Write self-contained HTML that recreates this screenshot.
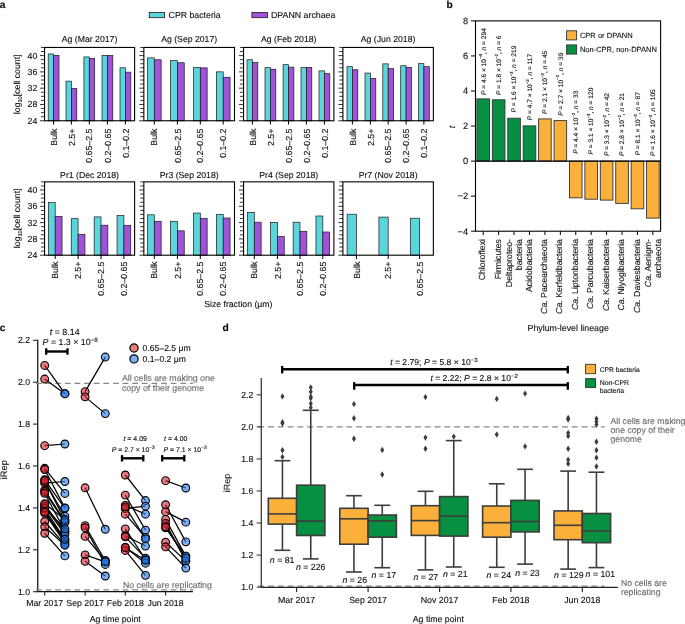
<!DOCTYPE html>
<html><head><meta charset="utf-8"><title>Figure</title>
<style>
html,body{margin:0;padding:0;background:#fff;}
body{width:685px;height:624px;overflow:hidden;}
svg{display:block;font-family:"Liberation Sans", sans-serif;text-rendering:geometricPrecision;will-change:transform;}
text{stroke:#111;stroke-width:0.12px;}
</style></head>
<body>
<svg width="685" height="624" viewBox="0 0 685 624" fill="#111">
<rect x="0" y="0" width="685" height="624" fill="#fff"/>
<text x="-0.3" y="7.8" font-size="10.2" fill="#000" stroke="#000" font-weight="bold">a</text>
<text x="446.4" y="7.8" font-size="10.2" fill="#000" stroke="#000" font-weight="bold">b</text>
<text x="-0.3" y="330.7" font-size="10.2" fill="#000" stroke="#000" font-weight="bold">c</text>
<text x="222.6" y="330.7" font-size="10.2" fill="#000" stroke="#000" font-weight="bold">d</text>
<rect x="48.2" y="53.95" width="5.4" height="66.81" fill="#5ad5dc" stroke="#1a1a1a" stroke-width="0.7" />
<rect x="53.6" y="55.45" width="5.4" height="65.31" fill="#a052d9" stroke="#1a1a1a" stroke-width="0.7" />
<line x1="53.6" y1="120.76" x2="53.6" y2="124.56" stroke="#000" stroke-width="1.0" />
<text x="56.8" y="128.66" font-size="8.75" text-anchor="end" transform="rotate(-90 56.8 128.66)">Bulk</text>
<rect x="66" y="81.15" width="5.4" height="39.61" fill="#5ad5dc" stroke="#1a1a1a" stroke-width="0.7" />
<rect x="71.4" y="88.45" width="5.4" height="32.31" fill="#a052d9" stroke="#1a1a1a" stroke-width="0.7" />
<line x1="71.4" y1="120.76" x2="71.4" y2="124.56" stroke="#000" stroke-width="1.0" />
<text x="74.6" y="128.66" font-size="8.75" text-anchor="end" transform="rotate(-90 74.6 128.66)">2.5+</text>
<rect x="83.9" y="56.95" width="5.4" height="63.81" fill="#5ad5dc" stroke="#1a1a1a" stroke-width="0.7" />
<rect x="89.3" y="58.35" width="5.4" height="62.41" fill="#a052d9" stroke="#1a1a1a" stroke-width="0.7" />
<line x1="89.3" y1="120.76" x2="89.3" y2="124.56" stroke="#000" stroke-width="1.0" />
<text x="92.5" y="128.66" font-size="8.75" text-anchor="end" transform="rotate(-90 92.5 128.66)">0.65–2.5</text>
<rect x="102" y="55.45" width="5.4" height="65.31" fill="#5ad5dc" stroke="#1a1a1a" stroke-width="0.7" />
<rect x="107.4" y="55.45" width="5.4" height="65.31" fill="#a052d9" stroke="#1a1a1a" stroke-width="0.7" />
<line x1="107.4" y1="120.76" x2="107.4" y2="124.56" stroke="#000" stroke-width="1.0" />
<text x="110.6" y="128.66" font-size="8.75" text-anchor="end" transform="rotate(-90 110.6 128.66)">0.2–0.65</text>
<rect x="120" y="67.75" width="5.4" height="53.01" fill="#5ad5dc" stroke="#1a1a1a" stroke-width="0.7" />
<rect x="125.4" y="72.15" width="5.4" height="48.61" fill="#a052d9" stroke="#1a1a1a" stroke-width="0.7" />
<line x1="125.4" y1="120.76" x2="125.4" y2="124.56" stroke="#000" stroke-width="1.0" />
<text x="128.6" y="128.66" font-size="8.75" text-anchor="end" transform="rotate(-90 128.6 128.66)">0.1–0.2</text>
<rect x="44.55" y="47.45" width="90.05" height="73.31" fill="none" stroke="#000" stroke-width="1.1" />
<line x1="39.95" y1="120.76" x2="44.55" y2="120.76" stroke="#000" stroke-width="0.8" />
<text x="37.25" y="123.76" font-size="8.75" text-anchor="end">24</text>
<line x1="40.95" y1="116.69" x2="44.55" y2="116.69" stroke="#000" stroke-width="0.8" />
<line x1="40.95" y1="112.61" x2="44.55" y2="112.61" stroke="#000" stroke-width="0.8" />
<line x1="40.95" y1="108.54" x2="44.55" y2="108.54" stroke="#000" stroke-width="0.8" />
<line x1="39.95" y1="104.47" x2="44.55" y2="104.47" stroke="#000" stroke-width="0.8" />
<text x="37.25" y="107.47" font-size="8.75" text-anchor="end">28</text>
<line x1="40.95" y1="100.4" x2="44.55" y2="100.4" stroke="#000" stroke-width="0.8" />
<line x1="40.95" y1="96.32" x2="44.55" y2="96.32" stroke="#000" stroke-width="0.8" />
<line x1="40.95" y1="92.25" x2="44.55" y2="92.25" stroke="#000" stroke-width="0.8" />
<line x1="39.95" y1="88.18" x2="44.55" y2="88.18" stroke="#000" stroke-width="0.8" />
<text x="37.25" y="91.18" font-size="8.75" text-anchor="end">32</text>
<line x1="40.95" y1="84.11" x2="44.55" y2="84.11" stroke="#000" stroke-width="0.8" />
<line x1="40.95" y1="80.03" x2="44.55" y2="80.03" stroke="#000" stroke-width="0.8" />
<line x1="40.95" y1="75.96" x2="44.55" y2="75.96" stroke="#000" stroke-width="0.8" />
<line x1="39.95" y1="71.89" x2="44.55" y2="71.89" stroke="#000" stroke-width="0.8" />
<text x="37.25" y="74.89" font-size="8.75" text-anchor="end">36</text>
<line x1="40.95" y1="67.81" x2="44.55" y2="67.81" stroke="#000" stroke-width="0.8" />
<line x1="40.95" y1="63.74" x2="44.55" y2="63.74" stroke="#000" stroke-width="0.8" />
<line x1="40.95" y1="59.67" x2="44.55" y2="59.67" stroke="#000" stroke-width="0.8" />
<line x1="39.95" y1="55.6" x2="44.55" y2="55.6" stroke="#000" stroke-width="0.8" />
<text x="37.25" y="58.6" font-size="8.75" text-anchor="end">40</text>
<line x1="40.95" y1="51.52" x2="44.55" y2="51.52" stroke="#000" stroke-width="0.8" />
<line x1="40.95" y1="47.45" x2="44.55" y2="47.45" stroke="#000" stroke-width="0.8" />
<text x="89.57" y="41.8" font-size="8.7" text-anchor="middle">Ag (Mar 2017)</text>
<rect x="147.45" y="57.85" width="6.85" height="62.91" fill="#5ad5dc" stroke="#1a1a1a" stroke-width="0.7" />
<rect x="154.3" y="59.75" width="6.85" height="61.01" fill="#a052d9" stroke="#1a1a1a" stroke-width="0.7" />
<line x1="154.3" y1="120.76" x2="154.3" y2="124.56" stroke="#000" stroke-width="1.0" />
<text x="157.5" y="128.66" font-size="8.75" text-anchor="end" transform="rotate(-90 157.5 128.66)">Bulk</text>
<rect x="170.55" y="60.65" width="6.85" height="60.11" fill="#5ad5dc" stroke="#1a1a1a" stroke-width="0.7" />
<rect x="177.4" y="62.75" width="6.85" height="58.01" fill="#a052d9" stroke="#1a1a1a" stroke-width="0.7" />
<line x1="177.4" y1="120.76" x2="177.4" y2="124.56" stroke="#000" stroke-width="1.0" />
<text x="180.6" y="128.66" font-size="8.75" text-anchor="end" transform="rotate(-90 180.6 128.66)">0.65–2.5</text>
<rect x="193.45" y="67.65" width="6.85" height="53.11" fill="#5ad5dc" stroke="#1a1a1a" stroke-width="0.7" />
<rect x="200.3" y="67.85" width="6.85" height="52.91" fill="#a052d9" stroke="#1a1a1a" stroke-width="0.7" />
<line x1="200.3" y1="120.76" x2="200.3" y2="124.56" stroke="#000" stroke-width="1.0" />
<text x="203.5" y="128.66" font-size="8.75" text-anchor="end" transform="rotate(-90 203.5 128.66)">0.2–0.65</text>
<rect x="216.35" y="71.85" width="6.85" height="48.91" fill="#5ad5dc" stroke="#1a1a1a" stroke-width="0.7" />
<rect x="223.2" y="77.25" width="6.85" height="43.51" fill="#a052d9" stroke="#1a1a1a" stroke-width="0.7" />
<line x1="223.2" y1="120.76" x2="223.2" y2="124.56" stroke="#000" stroke-width="1.0" />
<text x="226.4" y="128.66" font-size="8.75" text-anchor="end" transform="rotate(-90 226.4 128.66)">0.1–0.2</text>
<rect x="143.85" y="47.45" width="90.65" height="73.31" fill="none" stroke="#000" stroke-width="1.1" />
<line x1="139.25" y1="120.76" x2="143.85" y2="120.76" stroke="#000" stroke-width="0.8" />
<line x1="140.25" y1="116.69" x2="143.85" y2="116.69" stroke="#000" stroke-width="0.8" />
<line x1="140.25" y1="112.61" x2="143.85" y2="112.61" stroke="#000" stroke-width="0.8" />
<line x1="140.25" y1="108.54" x2="143.85" y2="108.54" stroke="#000" stroke-width="0.8" />
<line x1="139.25" y1="104.47" x2="143.85" y2="104.47" stroke="#000" stroke-width="0.8" />
<line x1="140.25" y1="100.4" x2="143.85" y2="100.4" stroke="#000" stroke-width="0.8" />
<line x1="140.25" y1="96.32" x2="143.85" y2="96.32" stroke="#000" stroke-width="0.8" />
<line x1="140.25" y1="92.25" x2="143.85" y2="92.25" stroke="#000" stroke-width="0.8" />
<line x1="139.25" y1="88.18" x2="143.85" y2="88.18" stroke="#000" stroke-width="0.8" />
<line x1="140.25" y1="84.11" x2="143.85" y2="84.11" stroke="#000" stroke-width="0.8" />
<line x1="140.25" y1="80.03" x2="143.85" y2="80.03" stroke="#000" stroke-width="0.8" />
<line x1="140.25" y1="75.96" x2="143.85" y2="75.96" stroke="#000" stroke-width="0.8" />
<line x1="139.25" y1="71.89" x2="143.85" y2="71.89" stroke="#000" stroke-width="0.8" />
<line x1="140.25" y1="67.81" x2="143.85" y2="67.81" stroke="#000" stroke-width="0.8" />
<line x1="140.25" y1="63.74" x2="143.85" y2="63.74" stroke="#000" stroke-width="0.8" />
<line x1="140.25" y1="59.67" x2="143.85" y2="59.67" stroke="#000" stroke-width="0.8" />
<line x1="139.25" y1="55.6" x2="143.85" y2="55.6" stroke="#000" stroke-width="0.8" />
<line x1="140.25" y1="51.52" x2="143.85" y2="51.52" stroke="#000" stroke-width="0.8" />
<line x1="140.25" y1="47.45" x2="143.85" y2="47.45" stroke="#000" stroke-width="0.8" />
<text x="189.18" y="41.8" font-size="8.7" text-anchor="middle">Ag (Sep 2017)</text>
<rect x="247" y="59.75" width="5.4" height="61.01" fill="#5ad5dc" stroke="#1a1a1a" stroke-width="0.7" />
<rect x="252.4" y="62.55" width="5.4" height="58.21" fill="#a052d9" stroke="#1a1a1a" stroke-width="0.7" />
<line x1="252.4" y1="120.76" x2="252.4" y2="124.56" stroke="#000" stroke-width="1.0" />
<text x="255.6" y="128.66" font-size="8.75" text-anchor="end" transform="rotate(-90 255.6 128.66)">Bulk</text>
<rect x="265" y="67.65" width="5.4" height="53.11" fill="#5ad5dc" stroke="#1a1a1a" stroke-width="0.7" />
<rect x="270.4" y="69.25" width="5.4" height="51.51" fill="#a052d9" stroke="#1a1a1a" stroke-width="0.7" />
<line x1="270.4" y1="120.76" x2="270.4" y2="124.56" stroke="#000" stroke-width="1.0" />
<text x="273.6" y="128.66" font-size="8.75" text-anchor="end" transform="rotate(-90 273.6 128.66)">2.5+</text>
<rect x="283.1" y="64.65" width="5.4" height="56.11" fill="#5ad5dc" stroke="#1a1a1a" stroke-width="0.7" />
<rect x="288.5" y="67.15" width="5.4" height="53.61" fill="#a052d9" stroke="#1a1a1a" stroke-width="0.7" />
<line x1="288.5" y1="120.76" x2="288.5" y2="124.56" stroke="#000" stroke-width="1.0" />
<text x="291.7" y="128.66" font-size="8.75" text-anchor="end" transform="rotate(-90 291.7 128.66)">0.65–2.5</text>
<rect x="301" y="67.65" width="5.4" height="53.11" fill="#5ad5dc" stroke="#1a1a1a" stroke-width="0.7" />
<rect x="306.4" y="67.35" width="5.4" height="53.41" fill="#a052d9" stroke="#1a1a1a" stroke-width="0.7" />
<line x1="306.4" y1="120.76" x2="306.4" y2="124.56" stroke="#000" stroke-width="1.0" />
<text x="309.6" y="128.66" font-size="8.75" text-anchor="end" transform="rotate(-90 309.6 128.66)">0.2–0.65</text>
<rect x="319" y="70.85" width="5.4" height="49.91" fill="#5ad5dc" stroke="#1a1a1a" stroke-width="0.7" />
<rect x="324.4" y="73.65" width="5.4" height="47.11" fill="#a052d9" stroke="#1a1a1a" stroke-width="0.7" />
<line x1="324.4" y1="120.76" x2="324.4" y2="124.56" stroke="#000" stroke-width="1.0" />
<text x="327.6" y="128.66" font-size="8.75" text-anchor="end" transform="rotate(-90 327.6 128.66)">0.1–0.2</text>
<rect x="243.55" y="47.45" width="90.35" height="73.31" fill="none" stroke="#000" stroke-width="1.1" />
<line x1="238.95" y1="120.76" x2="243.55" y2="120.76" stroke="#000" stroke-width="0.8" />
<line x1="239.95" y1="116.69" x2="243.55" y2="116.69" stroke="#000" stroke-width="0.8" />
<line x1="239.95" y1="112.61" x2="243.55" y2="112.61" stroke="#000" stroke-width="0.8" />
<line x1="239.95" y1="108.54" x2="243.55" y2="108.54" stroke="#000" stroke-width="0.8" />
<line x1="238.95" y1="104.47" x2="243.55" y2="104.47" stroke="#000" stroke-width="0.8" />
<line x1="239.95" y1="100.4" x2="243.55" y2="100.4" stroke="#000" stroke-width="0.8" />
<line x1="239.95" y1="96.32" x2="243.55" y2="96.32" stroke="#000" stroke-width="0.8" />
<line x1="239.95" y1="92.25" x2="243.55" y2="92.25" stroke="#000" stroke-width="0.8" />
<line x1="238.95" y1="88.18" x2="243.55" y2="88.18" stroke="#000" stroke-width="0.8" />
<line x1="239.95" y1="84.11" x2="243.55" y2="84.11" stroke="#000" stroke-width="0.8" />
<line x1="239.95" y1="80.03" x2="243.55" y2="80.03" stroke="#000" stroke-width="0.8" />
<line x1="239.95" y1="75.96" x2="243.55" y2="75.96" stroke="#000" stroke-width="0.8" />
<line x1="238.95" y1="71.89" x2="243.55" y2="71.89" stroke="#000" stroke-width="0.8" />
<line x1="239.95" y1="67.81" x2="243.55" y2="67.81" stroke="#000" stroke-width="0.8" />
<line x1="239.95" y1="63.74" x2="243.55" y2="63.74" stroke="#000" stroke-width="0.8" />
<line x1="239.95" y1="59.67" x2="243.55" y2="59.67" stroke="#000" stroke-width="0.8" />
<line x1="238.95" y1="55.6" x2="243.55" y2="55.6" stroke="#000" stroke-width="0.8" />
<line x1="239.95" y1="51.52" x2="243.55" y2="51.52" stroke="#000" stroke-width="0.8" />
<line x1="239.95" y1="47.45" x2="243.55" y2="47.45" stroke="#000" stroke-width="0.8" />
<text x="288.73" y="41.8" font-size="8.7" text-anchor="middle">Ag (Feb 2018)</text>
<rect x="347" y="66.65" width="5.4" height="54.11" fill="#5ad5dc" stroke="#1a1a1a" stroke-width="0.7" />
<rect x="352.4" y="69.75" width="5.4" height="51.01" fill="#a052d9" stroke="#1a1a1a" stroke-width="0.7" />
<line x1="352.4" y1="120.76" x2="352.4" y2="124.56" stroke="#000" stroke-width="1.0" />
<text x="355.6" y="128.66" font-size="8.75" text-anchor="end" transform="rotate(-90 355.6 128.66)">Bulk</text>
<rect x="365" y="73.05" width="5.4" height="47.71" fill="#5ad5dc" stroke="#1a1a1a" stroke-width="0.7" />
<rect x="370.4" y="78.55" width="5.4" height="42.21" fill="#a052d9" stroke="#1a1a1a" stroke-width="0.7" />
<line x1="370.4" y1="120.76" x2="370.4" y2="124.56" stroke="#000" stroke-width="1.0" />
<text x="373.6" y="128.66" font-size="8.75" text-anchor="end" transform="rotate(-90 373.6 128.66)">2.5+</text>
<rect x="382.8" y="63.85" width="5.4" height="56.91" fill="#5ad5dc" stroke="#1a1a1a" stroke-width="0.7" />
<rect x="388.2" y="68.55" width="5.4" height="52.21" fill="#a052d9" stroke="#1a1a1a" stroke-width="0.7" />
<line x1="388.2" y1="120.76" x2="388.2" y2="124.56" stroke="#000" stroke-width="1.0" />
<text x="391.4" y="128.66" font-size="8.75" text-anchor="end" transform="rotate(-90 391.4 128.66)">0.65–2.5</text>
<rect x="400.7" y="65.75" width="5.4" height="55.01" fill="#5ad5dc" stroke="#1a1a1a" stroke-width="0.7" />
<rect x="406.1" y="67.45" width="5.4" height="53.31" fill="#a052d9" stroke="#1a1a1a" stroke-width="0.7" />
<line x1="406.1" y1="120.76" x2="406.1" y2="124.56" stroke="#000" stroke-width="1.0" />
<text x="409.3" y="128.66" font-size="8.75" text-anchor="end" transform="rotate(-90 409.3 128.66)">0.2–0.65</text>
<rect x="418.5" y="63.65" width="5.4" height="57.11" fill="#5ad5dc" stroke="#1a1a1a" stroke-width="0.7" />
<rect x="423.9" y="66.65" width="5.4" height="54.11" fill="#a052d9" stroke="#1a1a1a" stroke-width="0.7" />
<line x1="423.9" y1="120.76" x2="423.9" y2="124.56" stroke="#000" stroke-width="1.0" />
<text x="427.1" y="128.66" font-size="8.75" text-anchor="end" transform="rotate(-90 427.1 128.66)">0.1–0.2</text>
<rect x="342.9" y="47.45" width="90.45" height="73.31" fill="none" stroke="#000" stroke-width="1.1" />
<line x1="338.3" y1="120.76" x2="342.9" y2="120.76" stroke="#000" stroke-width="0.8" />
<line x1="339.3" y1="116.69" x2="342.9" y2="116.69" stroke="#000" stroke-width="0.8" />
<line x1="339.3" y1="112.61" x2="342.9" y2="112.61" stroke="#000" stroke-width="0.8" />
<line x1="339.3" y1="108.54" x2="342.9" y2="108.54" stroke="#000" stroke-width="0.8" />
<line x1="338.3" y1="104.47" x2="342.9" y2="104.47" stroke="#000" stroke-width="0.8" />
<line x1="339.3" y1="100.4" x2="342.9" y2="100.4" stroke="#000" stroke-width="0.8" />
<line x1="339.3" y1="96.32" x2="342.9" y2="96.32" stroke="#000" stroke-width="0.8" />
<line x1="339.3" y1="92.25" x2="342.9" y2="92.25" stroke="#000" stroke-width="0.8" />
<line x1="338.3" y1="88.18" x2="342.9" y2="88.18" stroke="#000" stroke-width="0.8" />
<line x1="339.3" y1="84.11" x2="342.9" y2="84.11" stroke="#000" stroke-width="0.8" />
<line x1="339.3" y1="80.03" x2="342.9" y2="80.03" stroke="#000" stroke-width="0.8" />
<line x1="339.3" y1="75.96" x2="342.9" y2="75.96" stroke="#000" stroke-width="0.8" />
<line x1="338.3" y1="71.89" x2="342.9" y2="71.89" stroke="#000" stroke-width="0.8" />
<line x1="339.3" y1="67.81" x2="342.9" y2="67.81" stroke="#000" stroke-width="0.8" />
<line x1="339.3" y1="63.74" x2="342.9" y2="63.74" stroke="#000" stroke-width="0.8" />
<line x1="339.3" y1="59.67" x2="342.9" y2="59.67" stroke="#000" stroke-width="0.8" />
<line x1="338.3" y1="55.6" x2="342.9" y2="55.6" stroke="#000" stroke-width="0.8" />
<line x1="339.3" y1="51.52" x2="342.9" y2="51.52" stroke="#000" stroke-width="0.8" />
<line x1="339.3" y1="47.45" x2="342.9" y2="47.45" stroke="#000" stroke-width="0.8" />
<text x="388.12" y="41.8" font-size="8.7" text-anchor="middle">Ag (Jun 2018)</text>
<text x="19.6" y="84.3" font-size="8.75" text-anchor="middle" transform="rotate(-90 19.6 84.3)">log<tspan font-size="5.6" dy="2">10</tspan><tspan dy="-2">[cell count]</tspan></text>
<rect x="48.35" y="202.6" width="6.85" height="52.6" fill="#5ad5dc" stroke="#1a1a1a" stroke-width="0.7" />
<rect x="55.2" y="216.4" width="6.85" height="38.8" fill="#a052d9" stroke="#1a1a1a" stroke-width="0.7" />
<line x1="55.2" y1="255.2" x2="55.2" y2="259" stroke="#000" stroke-width="1.0" />
<text x="58.4" y="261.7" font-size="8.75" text-anchor="end" transform="rotate(-90 58.4 261.7)">Bulk</text>
<rect x="71.25" y="218.7" width="6.85" height="36.5" fill="#5ad5dc" stroke="#1a1a1a" stroke-width="0.7" />
<rect x="78.1" y="234.3" width="6.85" height="20.9" fill="#a052d9" stroke="#1a1a1a" stroke-width="0.7" />
<line x1="78.1" y1="255.2" x2="78.1" y2="259" stroke="#000" stroke-width="1.0" />
<text x="81.3" y="261.7" font-size="8.75" text-anchor="end" transform="rotate(-90 81.3 261.7)">2.5+</text>
<rect x="94.15" y="216.9" width="6.85" height="38.3" fill="#5ad5dc" stroke="#1a1a1a" stroke-width="0.7" />
<rect x="101" y="225.2" width="6.85" height="30" fill="#a052d9" stroke="#1a1a1a" stroke-width="0.7" />
<line x1="101" y1="255.2" x2="101" y2="259" stroke="#000" stroke-width="1.0" />
<text x="104.2" y="261.7" font-size="8.75" text-anchor="end" transform="rotate(-90 104.2 261.7)">0.65–2.5</text>
<rect x="117.05" y="215.5" width="6.85" height="39.7" fill="#5ad5dc" stroke="#1a1a1a" stroke-width="0.7" />
<rect x="123.9" y="225.3" width="6.85" height="29.9" fill="#a052d9" stroke="#1a1a1a" stroke-width="0.7" />
<line x1="123.9" y1="255.2" x2="123.9" y2="259" stroke="#000" stroke-width="1.0" />
<text x="127.1" y="261.7" font-size="8.75" text-anchor="end" transform="rotate(-90 127.1 261.7)">0.2–0.65</text>
<rect x="44.55" y="181.85" width="90.05" height="73.35" fill="none" stroke="#000" stroke-width="1.1" />
<line x1="39.95" y1="255.2" x2="44.55" y2="255.2" stroke="#000" stroke-width="0.8" />
<text x="37.25" y="258.2" font-size="8.75" text-anchor="end">24</text>
<line x1="40.95" y1="251.12" x2="44.55" y2="251.12" stroke="#000" stroke-width="0.8" />
<line x1="40.95" y1="247.05" x2="44.55" y2="247.05" stroke="#000" stroke-width="0.8" />
<line x1="40.95" y1="242.97" x2="44.55" y2="242.97" stroke="#000" stroke-width="0.8" />
<line x1="39.95" y1="238.9" x2="44.55" y2="238.9" stroke="#000" stroke-width="0.8" />
<text x="37.25" y="241.9" font-size="8.75" text-anchor="end">28</text>
<line x1="40.95" y1="234.82" x2="44.55" y2="234.82" stroke="#000" stroke-width="0.8" />
<line x1="40.95" y1="230.75" x2="44.55" y2="230.75" stroke="#000" stroke-width="0.8" />
<line x1="40.95" y1="226.67" x2="44.55" y2="226.67" stroke="#000" stroke-width="0.8" />
<line x1="39.95" y1="222.6" x2="44.55" y2="222.6" stroke="#000" stroke-width="0.8" />
<text x="37.25" y="225.6" font-size="8.75" text-anchor="end">32</text>
<line x1="40.95" y1="218.52" x2="44.55" y2="218.52" stroke="#000" stroke-width="0.8" />
<line x1="40.95" y1="214.45" x2="44.55" y2="214.45" stroke="#000" stroke-width="0.8" />
<line x1="40.95" y1="210.38" x2="44.55" y2="210.38" stroke="#000" stroke-width="0.8" />
<line x1="39.95" y1="206.3" x2="44.55" y2="206.3" stroke="#000" stroke-width="0.8" />
<text x="37.25" y="209.3" font-size="8.75" text-anchor="end">36</text>
<line x1="40.95" y1="202.22" x2="44.55" y2="202.22" stroke="#000" stroke-width="0.8" />
<line x1="40.95" y1="198.15" x2="44.55" y2="198.15" stroke="#000" stroke-width="0.8" />
<line x1="40.95" y1="194.07" x2="44.55" y2="194.07" stroke="#000" stroke-width="0.8" />
<line x1="39.95" y1="190" x2="44.55" y2="190" stroke="#000" stroke-width="0.8" />
<text x="37.25" y="193" font-size="8.75" text-anchor="end">40</text>
<line x1="40.95" y1="185.93" x2="44.55" y2="185.93" stroke="#000" stroke-width="0.8" />
<line x1="40.95" y1="181.85" x2="44.55" y2="181.85" stroke="#000" stroke-width="0.8" />
<text x="89.57" y="177.9" font-size="8.7" text-anchor="middle">Pr1 (Dec 2018)</text>
<rect x="147.45" y="214.8" width="6.85" height="40.4" fill="#5ad5dc" stroke="#1a1a1a" stroke-width="0.7" />
<rect x="154.3" y="221.3" width="6.85" height="33.9" fill="#a052d9" stroke="#1a1a1a" stroke-width="0.7" />
<line x1="154.3" y1="255.2" x2="154.3" y2="259" stroke="#000" stroke-width="1.0" />
<text x="157.5" y="261.7" font-size="8.75" text-anchor="end" transform="rotate(-90 157.5 261.7)">Bulk</text>
<rect x="170.55" y="221.3" width="6.85" height="33.9" fill="#5ad5dc" stroke="#1a1a1a" stroke-width="0.7" />
<rect x="177.4" y="230.8" width="6.85" height="24.4" fill="#a052d9" stroke="#1a1a1a" stroke-width="0.7" />
<line x1="177.4" y1="255.2" x2="177.4" y2="259" stroke="#000" stroke-width="1.0" />
<text x="180.6" y="261.7" font-size="8.75" text-anchor="end" transform="rotate(-90 180.6 261.7)">2.5+</text>
<rect x="193.45" y="213.1" width="6.85" height="42.1" fill="#5ad5dc" stroke="#1a1a1a" stroke-width="0.7" />
<rect x="200.3" y="218.3" width="6.85" height="36.9" fill="#a052d9" stroke="#1a1a1a" stroke-width="0.7" />
<line x1="200.3" y1="255.2" x2="200.3" y2="259" stroke="#000" stroke-width="1.0" />
<text x="203.5" y="261.7" font-size="8.75" text-anchor="end" transform="rotate(-90 203.5 261.7)">0.65–2.5</text>
<rect x="216.35" y="214.5" width="6.85" height="40.7" fill="#5ad5dc" stroke="#1a1a1a" stroke-width="0.7" />
<rect x="223.2" y="218" width="6.85" height="37.2" fill="#a052d9" stroke="#1a1a1a" stroke-width="0.7" />
<line x1="223.2" y1="255.2" x2="223.2" y2="259" stroke="#000" stroke-width="1.0" />
<text x="226.4" y="261.7" font-size="8.75" text-anchor="end" transform="rotate(-90 226.4 261.7)">0.2–0.65</text>
<rect x="143.85" y="181.85" width="90.65" height="73.35" fill="none" stroke="#000" stroke-width="1.1" />
<line x1="139.25" y1="255.2" x2="143.85" y2="255.2" stroke="#000" stroke-width="0.8" />
<line x1="140.25" y1="251.12" x2="143.85" y2="251.12" stroke="#000" stroke-width="0.8" />
<line x1="140.25" y1="247.05" x2="143.85" y2="247.05" stroke="#000" stroke-width="0.8" />
<line x1="140.25" y1="242.97" x2="143.85" y2="242.97" stroke="#000" stroke-width="0.8" />
<line x1="139.25" y1="238.9" x2="143.85" y2="238.9" stroke="#000" stroke-width="0.8" />
<line x1="140.25" y1="234.82" x2="143.85" y2="234.82" stroke="#000" stroke-width="0.8" />
<line x1="140.25" y1="230.75" x2="143.85" y2="230.75" stroke="#000" stroke-width="0.8" />
<line x1="140.25" y1="226.67" x2="143.85" y2="226.67" stroke="#000" stroke-width="0.8" />
<line x1="139.25" y1="222.6" x2="143.85" y2="222.6" stroke="#000" stroke-width="0.8" />
<line x1="140.25" y1="218.52" x2="143.85" y2="218.52" stroke="#000" stroke-width="0.8" />
<line x1="140.25" y1="214.45" x2="143.85" y2="214.45" stroke="#000" stroke-width="0.8" />
<line x1="140.25" y1="210.38" x2="143.85" y2="210.38" stroke="#000" stroke-width="0.8" />
<line x1="139.25" y1="206.3" x2="143.85" y2="206.3" stroke="#000" stroke-width="0.8" />
<line x1="140.25" y1="202.22" x2="143.85" y2="202.22" stroke="#000" stroke-width="0.8" />
<line x1="140.25" y1="198.15" x2="143.85" y2="198.15" stroke="#000" stroke-width="0.8" />
<line x1="140.25" y1="194.07" x2="143.85" y2="194.07" stroke="#000" stroke-width="0.8" />
<line x1="139.25" y1="190" x2="143.85" y2="190" stroke="#000" stroke-width="0.8" />
<line x1="140.25" y1="185.93" x2="143.85" y2="185.93" stroke="#000" stroke-width="0.8" />
<line x1="140.25" y1="181.85" x2="143.85" y2="181.85" stroke="#000" stroke-width="0.8" />
<text x="189.18" y="177.9" font-size="8.7" text-anchor="middle">Pr3 (Sep 2018)</text>
<rect x="247.45" y="212.4" width="6.85" height="42.8" fill="#5ad5dc" stroke="#1a1a1a" stroke-width="0.7" />
<rect x="254.3" y="222.2" width="6.85" height="33" fill="#a052d9" stroke="#1a1a1a" stroke-width="0.7" />
<line x1="254.3" y1="255.2" x2="254.3" y2="259" stroke="#000" stroke-width="1.0" />
<text x="257.5" y="261.7" font-size="8.75" text-anchor="end" transform="rotate(-90 257.5 261.7)">Bulk</text>
<rect x="270.55" y="222.4" width="6.85" height="32.8" fill="#5ad5dc" stroke="#1a1a1a" stroke-width="0.7" />
<rect x="277.4" y="236.5" width="6.85" height="18.7" fill="#a052d9" stroke="#1a1a1a" stroke-width="0.7" />
<line x1="277.4" y1="255.2" x2="277.4" y2="259" stroke="#000" stroke-width="1.0" />
<text x="280.6" y="261.7" font-size="8.75" text-anchor="end" transform="rotate(-90 280.6 261.7)">2.5+</text>
<rect x="293.15" y="222.2" width="6.85" height="33" fill="#5ad5dc" stroke="#1a1a1a" stroke-width="0.7" />
<rect x="300" y="231.3" width="6.85" height="23.9" fill="#a052d9" stroke="#1a1a1a" stroke-width="0.7" />
<line x1="300" y1="255.2" x2="300" y2="259" stroke="#000" stroke-width="1.0" />
<text x="303.2" y="261.7" font-size="8.75" text-anchor="end" transform="rotate(-90 303.2 261.7)">0.65–2.5</text>
<rect x="315.95" y="216" width="6.85" height="39.2" fill="#5ad5dc" stroke="#1a1a1a" stroke-width="0.7" />
<rect x="322.8" y="232" width="6.85" height="23.2" fill="#a052d9" stroke="#1a1a1a" stroke-width="0.7" />
<line x1="322.8" y1="255.2" x2="322.8" y2="259" stroke="#000" stroke-width="1.0" />
<text x="326" y="261.7" font-size="8.75" text-anchor="end" transform="rotate(-90 326 261.7)">0.2–0.65</text>
<rect x="243.55" y="181.85" width="90.35" height="73.35" fill="none" stroke="#000" stroke-width="1.1" />
<line x1="238.95" y1="255.2" x2="243.55" y2="255.2" stroke="#000" stroke-width="0.8" />
<line x1="239.95" y1="251.12" x2="243.55" y2="251.12" stroke="#000" stroke-width="0.8" />
<line x1="239.95" y1="247.05" x2="243.55" y2="247.05" stroke="#000" stroke-width="0.8" />
<line x1="239.95" y1="242.97" x2="243.55" y2="242.97" stroke="#000" stroke-width="0.8" />
<line x1="238.95" y1="238.9" x2="243.55" y2="238.9" stroke="#000" stroke-width="0.8" />
<line x1="239.95" y1="234.82" x2="243.55" y2="234.82" stroke="#000" stroke-width="0.8" />
<line x1="239.95" y1="230.75" x2="243.55" y2="230.75" stroke="#000" stroke-width="0.8" />
<line x1="239.95" y1="226.67" x2="243.55" y2="226.67" stroke="#000" stroke-width="0.8" />
<line x1="238.95" y1="222.6" x2="243.55" y2="222.6" stroke="#000" stroke-width="0.8" />
<line x1="239.95" y1="218.52" x2="243.55" y2="218.52" stroke="#000" stroke-width="0.8" />
<line x1="239.95" y1="214.45" x2="243.55" y2="214.45" stroke="#000" stroke-width="0.8" />
<line x1="239.95" y1="210.38" x2="243.55" y2="210.38" stroke="#000" stroke-width="0.8" />
<line x1="238.95" y1="206.3" x2="243.55" y2="206.3" stroke="#000" stroke-width="0.8" />
<line x1="239.95" y1="202.22" x2="243.55" y2="202.22" stroke="#000" stroke-width="0.8" />
<line x1="239.95" y1="198.15" x2="243.55" y2="198.15" stroke="#000" stroke-width="0.8" />
<line x1="239.95" y1="194.07" x2="243.55" y2="194.07" stroke="#000" stroke-width="0.8" />
<line x1="238.95" y1="190" x2="243.55" y2="190" stroke="#000" stroke-width="0.8" />
<line x1="239.95" y1="185.93" x2="243.55" y2="185.93" stroke="#000" stroke-width="0.8" />
<line x1="239.95" y1="181.85" x2="243.55" y2="181.85" stroke="#000" stroke-width="0.8" />
<text x="288.73" y="177.9" font-size="8.7" text-anchor="middle">Pr4 (Sep 2018)</text>
<rect x="347.1" y="214.2" width="9.3" height="41" fill="#5ad5dc" stroke="#1a1a1a" stroke-width="0.7" />
<line x1="356.4" y1="255.2" x2="356.4" y2="259" stroke="#000" stroke-width="1.0" />
<text x="359.6" y="261.7" font-size="8.75" text-anchor="end" transform="rotate(-90 359.6 261.7)">Bulk</text>
<rect x="378.9" y="217.1" width="9.3" height="38.1" fill="#5ad5dc" stroke="#1a1a1a" stroke-width="0.7" />
<line x1="388.2" y1="255.2" x2="388.2" y2="259" stroke="#000" stroke-width="1.0" />
<text x="391.4" y="261.7" font-size="8.75" text-anchor="end" transform="rotate(-90 391.4 261.7)">2.5+</text>
<rect x="410.3" y="218.2" width="9.3" height="37" fill="#5ad5dc" stroke="#1a1a1a" stroke-width="0.7" />
<line x1="419.6" y1="255.2" x2="419.6" y2="259" stroke="#000" stroke-width="1.0" />
<text x="422.8" y="261.7" font-size="8.75" text-anchor="end" transform="rotate(-90 422.8 261.7)">0.65–2.5</text>
<rect x="342.9" y="181.85" width="90.45" height="73.35" fill="none" stroke="#000" stroke-width="1.1" />
<line x1="338.3" y1="255.2" x2="342.9" y2="255.2" stroke="#000" stroke-width="0.8" />
<line x1="339.3" y1="251.12" x2="342.9" y2="251.12" stroke="#000" stroke-width="0.8" />
<line x1="339.3" y1="247.05" x2="342.9" y2="247.05" stroke="#000" stroke-width="0.8" />
<line x1="339.3" y1="242.97" x2="342.9" y2="242.97" stroke="#000" stroke-width="0.8" />
<line x1="338.3" y1="238.9" x2="342.9" y2="238.9" stroke="#000" stroke-width="0.8" />
<line x1="339.3" y1="234.82" x2="342.9" y2="234.82" stroke="#000" stroke-width="0.8" />
<line x1="339.3" y1="230.75" x2="342.9" y2="230.75" stroke="#000" stroke-width="0.8" />
<line x1="339.3" y1="226.67" x2="342.9" y2="226.67" stroke="#000" stroke-width="0.8" />
<line x1="338.3" y1="222.6" x2="342.9" y2="222.6" stroke="#000" stroke-width="0.8" />
<line x1="339.3" y1="218.52" x2="342.9" y2="218.52" stroke="#000" stroke-width="0.8" />
<line x1="339.3" y1="214.45" x2="342.9" y2="214.45" stroke="#000" stroke-width="0.8" />
<line x1="339.3" y1="210.38" x2="342.9" y2="210.38" stroke="#000" stroke-width="0.8" />
<line x1="338.3" y1="206.3" x2="342.9" y2="206.3" stroke="#000" stroke-width="0.8" />
<line x1="339.3" y1="202.22" x2="342.9" y2="202.22" stroke="#000" stroke-width="0.8" />
<line x1="339.3" y1="198.15" x2="342.9" y2="198.15" stroke="#000" stroke-width="0.8" />
<line x1="339.3" y1="194.07" x2="342.9" y2="194.07" stroke="#000" stroke-width="0.8" />
<line x1="338.3" y1="190" x2="342.9" y2="190" stroke="#000" stroke-width="0.8" />
<line x1="339.3" y1="185.93" x2="342.9" y2="185.93" stroke="#000" stroke-width="0.8" />
<line x1="339.3" y1="181.85" x2="342.9" y2="181.85" stroke="#000" stroke-width="0.8" />
<text x="388.12" y="177.9" font-size="8.7" text-anchor="middle">Pr7 (Nov 2018)</text>
<text x="19.6" y="218.3" font-size="8.75" text-anchor="middle" transform="rotate(-90 19.6 218.3)">log<tspan font-size="5.6" dy="2">10</tspan><tspan dy="-2">[cell count]</tspan></text>
<rect x="149.2" y="12.4" width="15.4" height="5.3" fill="#5ad5dc" stroke="#1a1a1a" stroke-width="0.8" />
<text x="168.6" y="18.3" font-size="8.75">CPR bacteria</text>
<rect x="251.9" y="12.4" width="15.6" height="5.3" fill="#a052d9" stroke="#1a1a1a" stroke-width="0.8" />
<text x="271" y="18.3" font-size="8.8">DPANN archaea</text>
<text x="238.3" y="306.9" font-size="8.7" text-anchor="middle">Size fraction (μm)</text>
<rect x="476.91" y="98.9" width="12.6" height="62.2" fill="#078f42" stroke="#333" stroke-width="0.9" />
<line x1="483.21" y1="231.2" x2="483.21" y2="235" stroke="#000" stroke-width="1.0" />
<rect x="492.34" y="99.8" width="12.6" height="61.3" fill="#078f42" stroke="#333" stroke-width="0.9" />
<line x1="498.64" y1="231.2" x2="498.64" y2="235" stroke="#000" stroke-width="1.0" />
<rect x="507.76" y="118.2" width="12.6" height="42.9" fill="#078f42" stroke="#333" stroke-width="0.9" />
<line x1="514.06" y1="231.2" x2="514.06" y2="235" stroke="#000" stroke-width="1.0" />
<rect x="523.19" y="125.9" width="12.6" height="35.2" fill="#078f42" stroke="#333" stroke-width="0.9" />
<line x1="529.49" y1="231.2" x2="529.49" y2="235" stroke="#000" stroke-width="1.0" />
<rect x="538.61" y="118.9" width="12.6" height="42.2" fill="#fbb03b" stroke="#333" stroke-width="0.9" />
<line x1="544.91" y1="231.2" x2="544.91" y2="235" stroke="#000" stroke-width="1.0" />
<rect x="554.04" y="120.6" width="12.6" height="40.5" fill="#fbb03b" stroke="#333" stroke-width="0.9" />
<line x1="560.34" y1="231.2" x2="560.34" y2="235" stroke="#000" stroke-width="1.0" />
<rect x="569.46" y="161.1" width="12.6" height="36.7" fill="#fbb03b" stroke="#333" stroke-width="0.9" />
<line x1="575.76" y1="231.2" x2="575.76" y2="235" stroke="#000" stroke-width="1.0" />
<rect x="584.89" y="161.1" width="12.6" height="38.1" fill="#fbb03b" stroke="#333" stroke-width="0.9" />
<line x1="591.19" y1="231.2" x2="591.19" y2="235" stroke="#000" stroke-width="1.0" />
<rect x="600.31" y="161.1" width="12.6" height="39" fill="#fbb03b" stroke="#333" stroke-width="0.9" />
<line x1="606.61" y1="231.2" x2="606.61" y2="235" stroke="#000" stroke-width="1.0" />
<rect x="615.74" y="161.1" width="12.6" height="42.3" fill="#fbb03b" stroke="#333" stroke-width="0.9" />
<line x1="622.04" y1="231.2" x2="622.04" y2="235" stroke="#000" stroke-width="1.0" />
<rect x="631.16" y="161.1" width="12.6" height="47.7" fill="#fbb03b" stroke="#333" stroke-width="0.9" />
<line x1="637.46" y1="231.2" x2="637.46" y2="235" stroke="#000" stroke-width="1.0" />
<rect x="646.59" y="161.1" width="12.6" height="57" fill="#fbb03b" stroke="#333" stroke-width="0.9" />
<line x1="652.89" y1="231.2" x2="652.89" y2="235" stroke="#000" stroke-width="1.0" />
<line x1="475.5" y1="161.1" x2="660.6" y2="161.1" stroke="#000" stroke-width="1.1" />
<rect x="475.5" y="20.9" width="185.1" height="210.3" fill="none" stroke="#000" stroke-width="1.1" />
<line x1="471" y1="20.9" x2="475.5" y2="20.9" stroke="#000" stroke-width="1.0" />
<text x="468.2" y="24.2" font-size="9.3" text-anchor="end">8</text>
<line x1="471" y1="55.95" x2="475.5" y2="55.95" stroke="#000" stroke-width="1.0" />
<text x="468.2" y="59.25" font-size="9.3" text-anchor="end">6</text>
<line x1="471" y1="91" x2="475.5" y2="91" stroke="#000" stroke-width="1.0" />
<text x="468.2" y="94.3" font-size="9.3" text-anchor="end">4</text>
<line x1="471" y1="126.05" x2="475.5" y2="126.05" stroke="#000" stroke-width="1.0" />
<text x="468.2" y="129.35" font-size="9.3" text-anchor="end">2</text>
<line x1="471" y1="161.1" x2="475.5" y2="161.1" stroke="#000" stroke-width="1.0" />
<text x="468.2" y="164.4" font-size="9.3" text-anchor="end">0</text>
<line x1="471" y1="196.15" x2="475.5" y2="196.15" stroke="#000" stroke-width="1.0" />
<text x="468.2" y="199.45" font-size="9.3" text-anchor="end">−2</text>
<line x1="471" y1="231.2" x2="475.5" y2="231.2" stroke="#000" stroke-width="1.0" />
<text x="468.2" y="234.5" font-size="9.3" text-anchor="end">−4</text>
<text x="454.6" y="127.1" font-size="8.6" text-anchor="middle" transform="rotate(-90 454.6 127.1)" font-style="italic">t</text>
<rect x="566.6" y="30.8" width="10" height="9.1" fill="#fbb03b" stroke="#333" stroke-width="0.9" />
<rect x="566.6" y="44.9" width="10" height="9.2" fill="#078f42" stroke="#333" stroke-width="0.9" />
<text x="579.9" y="38.4" font-size="7.55">CPR or DPANN</text>
<text x="579.9" y="52.4" font-size="7.5">Non-CPR, non-DPANN</text>
<text x="485.51" y="95" font-size="6.6" stroke-width="0.06" transform="rotate(-90 485.51 95)"><tspan font-style="italic">P</tspan> = 4.6 × 10<tspan dy="-3.2" font-size="4.4">−4</tspan><tspan dy="3.2">, </tspan><tspan font-style="italic">n</tspan> = 294</text>
<text x="500.94" y="95" font-size="6.6" stroke-width="0.06" transform="rotate(-90 500.94 95)"><tspan font-style="italic">P</tspan> = 1.8 × 10<tspan dy="-3.2" font-size="4.4">−2</tspan><tspan dy="3.2">, </tspan><tspan font-style="italic">n</tspan> = 6</text>
<text x="516.36" y="112.5" font-size="6.6" stroke-width="0.06" transform="rotate(-90 516.36 112.5)"><tspan font-style="italic">P</tspan> = 1.6 × 10<tspan dy="-3.2" font-size="4.4">−3</tspan><tspan dy="3.2">, </tspan><tspan font-style="italic">n</tspan> = 219</text>
<text x="531.79" y="120.2" font-size="6.6" stroke-width="0.06" transform="rotate(-90 531.79 120.2)"><tspan font-style="italic">P</tspan> = 4.7 × 10<tspan dy="-3.2" font-size="4.4">−2</tspan><tspan dy="3.2">, </tspan><tspan font-style="italic">n</tspan> = 117</text>
<text x="547.21" y="113.9" font-size="6.6" stroke-width="0.06" transform="rotate(-90 547.21 113.9)"><tspan font-style="italic">P</tspan> = 2.1 × 10<tspan dy="-3.2" font-size="4.4">−2</tspan><tspan dy="3.2">, </tspan><tspan font-style="italic">n</tspan> = 45</text>
<text x="562.64" y="115.8" font-size="6.6" stroke-width="0.06" transform="rotate(-90 562.64 115.8)"><tspan font-style="italic">P</tspan> = 2.7 × 10<tspan dy="-3.2" font-size="4.4">−2</tspan><tspan dy="3.2">, </tspan><tspan font-style="italic">n</tspan> = 39</text>
<text x="578.06" y="153.8" font-size="6.6" stroke-width="0.06" transform="rotate(-90 578.06 153.8)"><tspan font-style="italic">P</tspan> = 4.4 × 10<tspan dy="-3.2" font-size="4.4">−2</tspan><tspan dy="3.2">, </tspan><tspan font-style="italic">n</tspan> = 33</text>
<text x="593.49" y="154.5" font-size="6.6" stroke-width="0.06" transform="rotate(-90 593.49 154.5)"><tspan font-style="italic">P</tspan> = 3.1 × 10<tspan dy="-3.2" font-size="4.4">−3</tspan><tspan dy="3.2">, </tspan><tspan font-style="italic">n</tspan> = 120</text>
<text x="608.91" y="156.1" font-size="6.6" stroke-width="0.06" transform="rotate(-90 608.91 156.1)"><tspan font-style="italic">P</tspan> = 3.3 × 10<tspan dy="-3.2" font-size="4.4">−2</tspan><tspan dy="3.2">, </tspan><tspan font-style="italic">n</tspan> = 42</text>
<text x="624.34" y="156.1" font-size="6.6" stroke-width="0.06" transform="rotate(-90 624.34 156.1)"><tspan font-style="italic">P</tspan> = 2.8 × 10<tspan dy="-3.2" font-size="4.4">−2</tspan><tspan dy="3.2">, </tspan><tspan font-style="italic">n</tspan> = 21</text>
<text x="639.76" y="155.3" font-size="6.6" stroke-width="0.06" transform="rotate(-90 639.76 155.3)"><tspan font-style="italic">P</tspan> = 8.1 × 10<tspan dy="-3.2" font-size="4.4">−3</tspan><tspan dy="3.2">, </tspan><tspan font-style="italic">n</tspan> = 87</text>
<text x="655.19" y="156.1" font-size="6.6" stroke-width="0.06" transform="rotate(-90 655.19 156.1)"><tspan font-style="italic">P</tspan> = 1.6 × 10<tspan dy="-3.2" font-size="4.4">−3</tspan><tspan dy="3.2">, </tspan><tspan font-style="italic">n</tspan> = 105</text>
<text x="485.31" y="239" font-size="8.75" text-anchor="end" transform="rotate(-90 485.31 239)">Chloroflexi</text>
<text x="500.74" y="239" font-size="8.75" text-anchor="end" transform="rotate(-90 500.74 239)">Firmicutes</text>
<text x="511.96" y="239" font-size="8.75" text-anchor="end" transform="rotate(-90 511.96 239)">Deltaproteo-</text>
<text x="522.36" y="239" font-size="8.75" text-anchor="end" transform="rotate(-90 522.36 239)">bacteria</text>
<text x="531.59" y="239" font-size="8.75" text-anchor="end" transform="rotate(-90 531.59 239)">Acidobacteria</text>
<text x="547.01" y="239" font-size="8.75" text-anchor="end" transform="rotate(-90 547.01 239)"><tspan font-style="italic">Ca.</tspan> Pacearchaeota</text>
<text x="562.44" y="239" font-size="8.75" text-anchor="end" transform="rotate(-90 562.44 239)"><tspan font-style="italic">Ca.</tspan> Kerfeldbacteria</text>
<text x="577.86" y="239" font-size="8.75" text-anchor="end" transform="rotate(-90 577.86 239)"><tspan font-style="italic">Ca.</tspan> Liptonbacteria</text>
<text x="593.29" y="239" font-size="8.75" text-anchor="end" transform="rotate(-90 593.29 239)"><tspan font-style="italic">Ca.</tspan> Parcubacteria</text>
<text x="608.71" y="239" font-size="8.75" text-anchor="end" transform="rotate(-90 608.71 239)"><tspan font-style="italic">Ca.</tspan> Kaiserbacteria</text>
<text x="624.14" y="239" font-size="8.75" text-anchor="end" transform="rotate(-90 624.14 239)"><tspan font-style="italic">Ca.</tspan> Niyogibacteria</text>
<text x="639.56" y="239" font-size="8.75" text-anchor="end" transform="rotate(-90 639.56 239)"><tspan font-style="italic">Ca.</tspan> Daviesbacteria</text>
<text x="650.79" y="239" font-size="8.75" text-anchor="end" transform="rotate(-90 650.79 239)"><tspan font-style="italic">Ca.</tspan> Aenigm-</text>
<text x="661.19" y="239" font-size="8.75" text-anchor="end" transform="rotate(-90 661.19 239)">archaeota</text>
<text x="568.2" y="331.1" font-size="8.8" text-anchor="middle">Phylum-level lineage</text>
<line x1="37.75" y1="339.8" x2="37.75" y2="592" stroke="#111" stroke-width="1.25" />
<line x1="37.15" y1="591.5" x2="192.9" y2="591.5" stroke="#111" stroke-width="1.25" />
<line x1="33.05" y1="591.7" x2="37.75" y2="591.7" stroke="#222" stroke-width="1.1" />
<text x="30.05" y="594.7" font-size="8.7" text-anchor="end">1.0</text>
<line x1="33.05" y1="549.8" x2="37.75" y2="549.8" stroke="#222" stroke-width="1.1" />
<text x="30.05" y="552.8" font-size="8.7" text-anchor="end">1.2</text>
<line x1="33.05" y1="507.9" x2="37.75" y2="507.9" stroke="#222" stroke-width="1.1" />
<text x="30.05" y="510.9" font-size="8.7" text-anchor="end">1.4</text>
<line x1="33.05" y1="466" x2="37.75" y2="466" stroke="#222" stroke-width="1.1" />
<text x="30.05" y="469" font-size="8.7" text-anchor="end">1.6</text>
<line x1="33.05" y1="424.1" x2="37.75" y2="424.1" stroke="#222" stroke-width="1.1" />
<text x="30.05" y="427.1" font-size="8.7" text-anchor="end">1.8</text>
<line x1="33.05" y1="382.2" x2="37.75" y2="382.2" stroke="#222" stroke-width="1.1" />
<text x="30.05" y="385.2" font-size="8.7" text-anchor="end">2.0</text>
<line x1="33.05" y1="340.3" x2="37.75" y2="340.3" stroke="#222" stroke-width="1.1" />
<text x="30.05" y="343.3" font-size="8.7" text-anchor="end">2.2</text>
<line x1="44.7" y1="591.5" x2="44.7" y2="595.6" stroke="#222" stroke-width="1.1" />
<text x="44.7" y="605.9" font-size="8.75" text-anchor="middle">Mar 2017</text>
<line x1="85.1" y1="591.5" x2="85.1" y2="595.6" stroke="#222" stroke-width="1.1" />
<text x="85.1" y="605.9" font-size="8.75" text-anchor="middle">Sep 2017</text>
<line x1="125.3" y1="591.5" x2="125.3" y2="595.6" stroke="#222" stroke-width="1.1" />
<text x="125.3" y="605.9" font-size="8.75" text-anchor="middle">Feb 2018</text>
<line x1="165.6" y1="591.5" x2="165.6" y2="595.6" stroke="#222" stroke-width="1.1" />
<text x="165.6" y="605.9" font-size="8.75" text-anchor="middle">Jun 2018</text>
<text x="115.2" y="621.6" font-size="8.75" text-anchor="middle">Ag time point</text>
<text x="7" y="469.7" font-size="9.3" text-anchor="middle" transform="rotate(-90 7 469.7)">iRep</text>
<line x1="36" y1="383.4" x2="193" y2="383.4" stroke="#888" stroke-width="1.2" stroke-dasharray="5.8 3.82"/>
<line x1="36" y1="589.8" x2="193" y2="589.8" stroke="#888" stroke-width="1.2" stroke-dasharray="5.8 3.82"/>
<text x="121.9" y="380.8" font-size="8.8" fill="#8a8a8a" stroke="#8a8a8a">All cells are making one</text>
<text x="121.9" y="391" font-size="8.8" fill="#8a8a8a" stroke="#8a8a8a">copy of their genome</text>
<text x="122.9" y="588.1" font-size="8.8" fill="#8a8a8a" stroke="#8a8a8a">No cells are replicating</text>
<line x1="44.7" y1="365.44" x2="64.9" y2="393.72" stroke="#000" stroke-width="1.25" />
<line x1="44.7" y1="379.06" x2="64.9" y2="393.72" stroke="#000" stroke-width="1.25" />
<line x1="44.7" y1="445.68" x2="64.9" y2="444" stroke="#000" stroke-width="1.25" />
<line x1="44.7" y1="468.3" x2="64.9" y2="493.44" stroke="#000" stroke-width="1.25" />
<line x1="44.7" y1="469.56" x2="64.9" y2="507.9" stroke="#000" stroke-width="1.25" />
<line x1="44.7" y1="479.62" x2="64.9" y2="508.32" stroke="#000" stroke-width="1.25" />
<line x1="44.7" y1="483.18" x2="64.9" y2="481.5" stroke="#000" stroke-width="1.25" />
<line x1="44.7" y1="481.29" x2="64.9" y2="516.28" stroke="#000" stroke-width="1.25" />
<line x1="44.7" y1="480.46" x2="64.9" y2="520.47" stroke="#000" stroke-width="1.25" />
<line x1="44.7" y1="490.09" x2="64.9" y2="521.52" stroke="#000" stroke-width="1.25" />
<line x1="44.7" y1="491.56" x2="64.9" y2="522.56" stroke="#000" stroke-width="1.25" />
<line x1="44.7" y1="493.24" x2="64.9" y2="530.94" stroke="#000" stroke-width="1.25" />
<line x1="44.7" y1="504.55" x2="64.9" y2="531.99" stroke="#000" stroke-width="1.25" />
<line x1="44.7" y1="506.43" x2="64.9" y2="534.09" stroke="#000" stroke-width="1.25" />
<line x1="44.7" y1="508.74" x2="64.9" y2="539.33" stroke="#000" stroke-width="1.25" />
<line x1="44.7" y1="511.04" x2="64.9" y2="541.42" stroke="#000" stroke-width="1.25" />
<line x1="44.7" y1="513.14" x2="64.9" y2="542.89" stroke="#000" stroke-width="1.25" />
<line x1="44.7" y1="521.52" x2="64.9" y2="544.56" stroke="#000" stroke-width="1.25" />
<line x1="44.7" y1="526.75" x2="64.9" y2="545.19" stroke="#000" stroke-width="1.25" />
<line x1="44.7" y1="533.25" x2="64.9" y2="555.88" stroke="#000" stroke-width="1.25" />
<line x1="44.7" y1="507.9" x2="64.9" y2="528.85" stroke="#000" stroke-width="1.25" />
<line x1="44.7" y1="503.71" x2="64.9" y2="519.42" stroke="#000" stroke-width="1.25" />
<line x1="44.7" y1="512.09" x2="64.9" y2="539.33" stroke="#000" stroke-width="1.25" />
<line x1="85.1" y1="391.63" x2="105.3" y2="357.06" stroke="#000" stroke-width="1.25" />
<line x1="85.1" y1="396.87" x2="105.3" y2="413.62" stroke="#000" stroke-width="1.25" />
<line x1="85.1" y1="487.79" x2="105.3" y2="529.27" stroke="#000" stroke-width="1.25" />
<line x1="85.1" y1="525.71" x2="105.3" y2="560.69" stroke="#000" stroke-width="1.25" />
<line x1="85.1" y1="527.8" x2="105.3" y2="564.47" stroke="#000" stroke-width="1.25" />
<line x1="85.1" y1="536.39" x2="105.3" y2="560.69" stroke="#000" stroke-width="1.25" />
<line x1="85.1" y1="554.83" x2="105.3" y2="561.95" stroke="#000" stroke-width="1.25" />
<line x1="85.1" y1="561.32" x2="105.3" y2="575.99" stroke="#000" stroke-width="1.25" />
<line x1="125.3" y1="475.01" x2="145.5" y2="500.57" stroke="#000" stroke-width="1.25" />
<line x1="125.3" y1="495.12" x2="145.5" y2="530.11" stroke="#000" stroke-width="1.25" />
<line x1="125.3" y1="505.39" x2="145.5" y2="514.18" stroke="#000" stroke-width="1.25" />
<line x1="125.3" y1="508.53" x2="145.5" y2="506.22" stroke="#000" stroke-width="1.25" />
<line x1="125.3" y1="514.18" x2="145.5" y2="537.44" stroke="#000" stroke-width="1.25" />
<line x1="125.3" y1="528.85" x2="145.5" y2="559.23" stroke="#000" stroke-width="1.25" />
<line x1="125.3" y1="535.76" x2="145.5" y2="546.03" stroke="#000" stroke-width="1.25" />
<line x1="125.3" y1="536.81" x2="145.5" y2="558.18" stroke="#000" stroke-width="1.25" />
<line x1="125.3" y1="547.29" x2="145.5" y2="563.21" stroke="#000" stroke-width="1.25" />
<line x1="125.3" y1="550.43" x2="145.5" y2="575.36" stroke="#000" stroke-width="1.25" />
<line x1="125.3" y1="506.85" x2="145.5" y2="538.91" stroke="#000" stroke-width="1.25" />
<line x1="125.3" y1="547.7" x2="145.5" y2="560.27" stroke="#000" stroke-width="1.25" />
<line x1="165.6" y1="480.66" x2="185.8" y2="488" stroke="#000" stroke-width="1.25" />
<line x1="165.6" y1="511.67" x2="185.8" y2="522.15" stroke="#000" stroke-width="1.25" />
<line x1="165.6" y1="504.76" x2="185.8" y2="541.84" stroke="#000" stroke-width="1.25" />
<line x1="165.6" y1="519.42" x2="185.8" y2="556.09" stroke="#000" stroke-width="1.25" />
<line x1="165.6" y1="523.4" x2="185.8" y2="560.9" stroke="#000" stroke-width="1.25" />
<line x1="165.6" y1="527.8" x2="185.8" y2="556.09" stroke="#000" stroke-width="1.25" />
<line x1="165.6" y1="542.26" x2="185.8" y2="560.9" stroke="#000" stroke-width="1.25" />
<line x1="165.6" y1="546.87" x2="185.8" y2="568.03" stroke="#000" stroke-width="1.25" />
<line x1="165.6" y1="526.75" x2="185.8" y2="558.18" stroke="#000" stroke-width="1.25" />
<circle cx="44.7" cy="365.44" r="3.9" fill="rgba(210,32,43,0.6)" stroke="#000" stroke-width="1.1"/>
<circle cx="44.7" cy="379.06" r="3.9" fill="rgba(210,32,43,0.6)" stroke="#000" stroke-width="1.1"/>
<circle cx="44.7" cy="445.68" r="3.9" fill="rgba(210,32,43,0.6)" stroke="#000" stroke-width="1.1"/>
<circle cx="44.7" cy="468.3" r="3.9" fill="rgba(210,32,43,0.6)" stroke="#000" stroke-width="1.1"/>
<circle cx="44.7" cy="469.56" r="3.9" fill="rgba(210,32,43,0.6)" stroke="#000" stroke-width="1.1"/>
<circle cx="44.7" cy="479.62" r="3.9" fill="rgba(210,32,43,0.6)" stroke="#000" stroke-width="1.1"/>
<circle cx="44.7" cy="483.18" r="3.9" fill="rgba(210,32,43,0.6)" stroke="#000" stroke-width="1.1"/>
<circle cx="44.7" cy="481.29" r="3.9" fill="rgba(210,32,43,0.6)" stroke="#000" stroke-width="1.1"/>
<circle cx="44.7" cy="480.46" r="3.9" fill="rgba(210,32,43,0.6)" stroke="#000" stroke-width="1.1"/>
<circle cx="44.7" cy="490.09" r="3.9" fill="rgba(210,32,43,0.6)" stroke="#000" stroke-width="1.1"/>
<circle cx="44.7" cy="491.56" r="3.9" fill="rgba(210,32,43,0.6)" stroke="#000" stroke-width="1.1"/>
<circle cx="44.7" cy="493.24" r="3.9" fill="rgba(210,32,43,0.6)" stroke="#000" stroke-width="1.1"/>
<circle cx="44.7" cy="504.55" r="3.9" fill="rgba(210,32,43,0.6)" stroke="#000" stroke-width="1.1"/>
<circle cx="44.7" cy="506.43" r="3.9" fill="rgba(210,32,43,0.6)" stroke="#000" stroke-width="1.1"/>
<circle cx="44.7" cy="508.74" r="3.9" fill="rgba(210,32,43,0.6)" stroke="#000" stroke-width="1.1"/>
<circle cx="44.7" cy="511.04" r="3.9" fill="rgba(210,32,43,0.6)" stroke="#000" stroke-width="1.1"/>
<circle cx="44.7" cy="513.14" r="3.9" fill="rgba(210,32,43,0.6)" stroke="#000" stroke-width="1.1"/>
<circle cx="44.7" cy="521.52" r="3.9" fill="rgba(210,32,43,0.6)" stroke="#000" stroke-width="1.1"/>
<circle cx="44.7" cy="526.75" r="3.9" fill="rgba(210,32,43,0.6)" stroke="#000" stroke-width="1.1"/>
<circle cx="44.7" cy="533.25" r="3.9" fill="rgba(210,32,43,0.6)" stroke="#000" stroke-width="1.1"/>
<circle cx="44.7" cy="507.9" r="3.9" fill="rgba(210,32,43,0.6)" stroke="#000" stroke-width="1.1"/>
<circle cx="44.7" cy="503.71" r="3.9" fill="rgba(210,32,43,0.6)" stroke="#000" stroke-width="1.1"/>
<circle cx="44.7" cy="512.09" r="3.9" fill="rgba(210,32,43,0.6)" stroke="#000" stroke-width="1.1"/>
<circle cx="64.9" cy="393.72" r="3.9" fill="rgba(33,120,230,0.6)" stroke="#000" stroke-width="1.1"/>
<circle cx="64.9" cy="393.72" r="3.9" fill="rgba(33,120,230,0.6)" stroke="#000" stroke-width="1.1"/>
<circle cx="64.9" cy="444" r="3.9" fill="rgba(33,120,230,0.6)" stroke="#000" stroke-width="1.1"/>
<circle cx="64.9" cy="493.44" r="3.9" fill="rgba(33,120,230,0.6)" stroke="#000" stroke-width="1.1"/>
<circle cx="64.9" cy="507.9" r="3.9" fill="rgba(33,120,230,0.6)" stroke="#000" stroke-width="1.1"/>
<circle cx="64.9" cy="508.32" r="3.9" fill="rgba(33,120,230,0.6)" stroke="#000" stroke-width="1.1"/>
<circle cx="64.9" cy="481.5" r="3.9" fill="rgba(33,120,230,0.6)" stroke="#000" stroke-width="1.1"/>
<circle cx="64.9" cy="516.28" r="3.9" fill="rgba(33,120,230,0.6)" stroke="#000" stroke-width="1.1"/>
<circle cx="64.9" cy="520.47" r="3.9" fill="rgba(33,120,230,0.6)" stroke="#000" stroke-width="1.1"/>
<circle cx="64.9" cy="521.52" r="3.9" fill="rgba(33,120,230,0.6)" stroke="#000" stroke-width="1.1"/>
<circle cx="64.9" cy="522.56" r="3.9" fill="rgba(33,120,230,0.6)" stroke="#000" stroke-width="1.1"/>
<circle cx="64.9" cy="530.94" r="3.9" fill="rgba(33,120,230,0.6)" stroke="#000" stroke-width="1.1"/>
<circle cx="64.9" cy="531.99" r="3.9" fill="rgba(33,120,230,0.6)" stroke="#000" stroke-width="1.1"/>
<circle cx="64.9" cy="534.09" r="3.9" fill="rgba(33,120,230,0.6)" stroke="#000" stroke-width="1.1"/>
<circle cx="64.9" cy="539.33" r="3.9" fill="rgba(33,120,230,0.6)" stroke="#000" stroke-width="1.1"/>
<circle cx="64.9" cy="541.42" r="3.9" fill="rgba(33,120,230,0.6)" stroke="#000" stroke-width="1.1"/>
<circle cx="64.9" cy="542.89" r="3.9" fill="rgba(33,120,230,0.6)" stroke="#000" stroke-width="1.1"/>
<circle cx="64.9" cy="544.56" r="3.9" fill="rgba(33,120,230,0.6)" stroke="#000" stroke-width="1.1"/>
<circle cx="64.9" cy="545.19" r="3.9" fill="rgba(33,120,230,0.6)" stroke="#000" stroke-width="1.1"/>
<circle cx="64.9" cy="555.88" r="3.9" fill="rgba(33,120,230,0.6)" stroke="#000" stroke-width="1.1"/>
<circle cx="64.9" cy="528.85" r="3.9" fill="rgba(33,120,230,0.6)" stroke="#000" stroke-width="1.1"/>
<circle cx="64.9" cy="519.42" r="3.9" fill="rgba(33,120,230,0.6)" stroke="#000" stroke-width="1.1"/>
<circle cx="64.9" cy="539.33" r="3.9" fill="rgba(33,120,230,0.6)" stroke="#000" stroke-width="1.1"/>
<circle cx="85.1" cy="391.63" r="3.9" fill="rgba(210,32,43,0.6)" stroke="#000" stroke-width="1.1"/>
<circle cx="85.1" cy="396.87" r="3.9" fill="rgba(210,32,43,0.6)" stroke="#000" stroke-width="1.1"/>
<circle cx="85.1" cy="487.79" r="3.9" fill="rgba(210,32,43,0.6)" stroke="#000" stroke-width="1.1"/>
<circle cx="85.1" cy="525.71" r="3.9" fill="rgba(210,32,43,0.6)" stroke="#000" stroke-width="1.1"/>
<circle cx="85.1" cy="527.8" r="3.9" fill="rgba(210,32,43,0.6)" stroke="#000" stroke-width="1.1"/>
<circle cx="85.1" cy="536.39" r="3.9" fill="rgba(210,32,43,0.6)" stroke="#000" stroke-width="1.1"/>
<circle cx="85.1" cy="554.83" r="3.9" fill="rgba(210,32,43,0.6)" stroke="#000" stroke-width="1.1"/>
<circle cx="85.1" cy="561.32" r="3.9" fill="rgba(210,32,43,0.6)" stroke="#000" stroke-width="1.1"/>
<circle cx="105.3" cy="357.06" r="3.9" fill="rgba(33,120,230,0.6)" stroke="#000" stroke-width="1.1"/>
<circle cx="105.3" cy="413.62" r="3.9" fill="rgba(33,120,230,0.6)" stroke="#000" stroke-width="1.1"/>
<circle cx="105.3" cy="529.27" r="3.9" fill="rgba(33,120,230,0.6)" stroke="#000" stroke-width="1.1"/>
<circle cx="105.3" cy="560.69" r="3.9" fill="rgba(33,120,230,0.6)" stroke="#000" stroke-width="1.1"/>
<circle cx="105.3" cy="564.47" r="3.9" fill="rgba(33,120,230,0.6)" stroke="#000" stroke-width="1.1"/>
<circle cx="105.3" cy="560.69" r="3.9" fill="rgba(33,120,230,0.6)" stroke="#000" stroke-width="1.1"/>
<circle cx="105.3" cy="561.95" r="3.9" fill="rgba(33,120,230,0.6)" stroke="#000" stroke-width="1.1"/>
<circle cx="105.3" cy="575.99" r="3.9" fill="rgba(33,120,230,0.6)" stroke="#000" stroke-width="1.1"/>
<circle cx="125.3" cy="475.01" r="3.9" fill="rgba(210,32,43,0.6)" stroke="#000" stroke-width="1.1"/>
<circle cx="125.3" cy="495.12" r="3.9" fill="rgba(210,32,43,0.6)" stroke="#000" stroke-width="1.1"/>
<circle cx="125.3" cy="505.39" r="3.9" fill="rgba(210,32,43,0.6)" stroke="#000" stroke-width="1.1"/>
<circle cx="125.3" cy="508.53" r="3.9" fill="rgba(210,32,43,0.6)" stroke="#000" stroke-width="1.1"/>
<circle cx="125.3" cy="514.18" r="3.9" fill="rgba(210,32,43,0.6)" stroke="#000" stroke-width="1.1"/>
<circle cx="125.3" cy="528.85" r="3.9" fill="rgba(210,32,43,0.6)" stroke="#000" stroke-width="1.1"/>
<circle cx="125.3" cy="535.76" r="3.9" fill="rgba(210,32,43,0.6)" stroke="#000" stroke-width="1.1"/>
<circle cx="125.3" cy="536.81" r="3.9" fill="rgba(210,32,43,0.6)" stroke="#000" stroke-width="1.1"/>
<circle cx="125.3" cy="547.29" r="3.9" fill="rgba(210,32,43,0.6)" stroke="#000" stroke-width="1.1"/>
<circle cx="125.3" cy="550.43" r="3.9" fill="rgba(210,32,43,0.6)" stroke="#000" stroke-width="1.1"/>
<circle cx="125.3" cy="506.85" r="3.9" fill="rgba(210,32,43,0.6)" stroke="#000" stroke-width="1.1"/>
<circle cx="125.3" cy="547.7" r="3.9" fill="rgba(210,32,43,0.6)" stroke="#000" stroke-width="1.1"/>
<circle cx="145.5" cy="500.57" r="3.9" fill="rgba(33,120,230,0.6)" stroke="#000" stroke-width="1.1"/>
<circle cx="145.5" cy="530.11" r="3.9" fill="rgba(33,120,230,0.6)" stroke="#000" stroke-width="1.1"/>
<circle cx="145.5" cy="514.18" r="3.9" fill="rgba(33,120,230,0.6)" stroke="#000" stroke-width="1.1"/>
<circle cx="145.5" cy="506.22" r="3.9" fill="rgba(33,120,230,0.6)" stroke="#000" stroke-width="1.1"/>
<circle cx="145.5" cy="537.44" r="3.9" fill="rgba(33,120,230,0.6)" stroke="#000" stroke-width="1.1"/>
<circle cx="145.5" cy="559.23" r="3.9" fill="rgba(33,120,230,0.6)" stroke="#000" stroke-width="1.1"/>
<circle cx="145.5" cy="546.03" r="3.9" fill="rgba(33,120,230,0.6)" stroke="#000" stroke-width="1.1"/>
<circle cx="145.5" cy="558.18" r="3.9" fill="rgba(33,120,230,0.6)" stroke="#000" stroke-width="1.1"/>
<circle cx="145.5" cy="563.21" r="3.9" fill="rgba(33,120,230,0.6)" stroke="#000" stroke-width="1.1"/>
<circle cx="145.5" cy="575.36" r="3.9" fill="rgba(33,120,230,0.6)" stroke="#000" stroke-width="1.1"/>
<circle cx="145.5" cy="538.91" r="3.9" fill="rgba(33,120,230,0.6)" stroke="#000" stroke-width="1.1"/>
<circle cx="145.5" cy="560.27" r="3.9" fill="rgba(33,120,230,0.6)" stroke="#000" stroke-width="1.1"/>
<circle cx="165.6" cy="480.66" r="3.9" fill="rgba(210,32,43,0.6)" stroke="#000" stroke-width="1.1"/>
<circle cx="165.6" cy="511.67" r="3.9" fill="rgba(210,32,43,0.6)" stroke="#000" stroke-width="1.1"/>
<circle cx="165.6" cy="504.76" r="3.9" fill="rgba(210,32,43,0.6)" stroke="#000" stroke-width="1.1"/>
<circle cx="165.6" cy="519.42" r="3.9" fill="rgba(210,32,43,0.6)" stroke="#000" stroke-width="1.1"/>
<circle cx="165.6" cy="523.4" r="3.9" fill="rgba(210,32,43,0.6)" stroke="#000" stroke-width="1.1"/>
<circle cx="165.6" cy="527.8" r="3.9" fill="rgba(210,32,43,0.6)" stroke="#000" stroke-width="1.1"/>
<circle cx="165.6" cy="542.26" r="3.9" fill="rgba(210,32,43,0.6)" stroke="#000" stroke-width="1.1"/>
<circle cx="165.6" cy="546.87" r="3.9" fill="rgba(210,32,43,0.6)" stroke="#000" stroke-width="1.1"/>
<circle cx="165.6" cy="526.75" r="3.9" fill="rgba(210,32,43,0.6)" stroke="#000" stroke-width="1.1"/>
<circle cx="185.8" cy="488" r="3.9" fill="rgba(33,120,230,0.6)" stroke="#000" stroke-width="1.1"/>
<circle cx="185.8" cy="522.15" r="3.9" fill="rgba(33,120,230,0.6)" stroke="#000" stroke-width="1.1"/>
<circle cx="185.8" cy="541.84" r="3.9" fill="rgba(33,120,230,0.6)" stroke="#000" stroke-width="1.1"/>
<circle cx="185.8" cy="556.09" r="3.9" fill="rgba(33,120,230,0.6)" stroke="#000" stroke-width="1.1"/>
<circle cx="185.8" cy="560.9" r="3.9" fill="rgba(33,120,230,0.6)" stroke="#000" stroke-width="1.1"/>
<circle cx="185.8" cy="556.09" r="3.9" fill="rgba(33,120,230,0.6)" stroke="#000" stroke-width="1.1"/>
<circle cx="185.8" cy="560.9" r="3.9" fill="rgba(33,120,230,0.6)" stroke="#000" stroke-width="1.1"/>
<circle cx="185.8" cy="568.03" r="3.9" fill="rgba(33,120,230,0.6)" stroke="#000" stroke-width="1.1"/>
<circle cx="185.8" cy="558.18" r="3.9" fill="rgba(33,120,230,0.6)" stroke="#000" stroke-width="1.1"/>
<circle cx="134" cy="348" r="4.1" fill="#e8806f" stroke="#000" stroke-width="1.2"/>
<circle cx="134" cy="358.9" r="4.1" fill="#7aaef0" stroke="#000" stroke-width="1.2"/>
<text x="142.6" y="350.9" font-size="8.65">0.65–2.5 μm</text>
<text x="142.6" y="361.9" font-size="8.65">0.1–0.2 μm</text>
<line x1="46.2" y1="351.5" x2="67.5" y2="351.5" stroke="#000" stroke-width="2.4" />
<line x1="46.2" y1="348.3" x2="46.2" y2="354.7" stroke="#000" stroke-width="2.3" />
<line x1="67.5" y1="348.3" x2="67.5" y2="354.7" stroke="#000" stroke-width="2.3" />
<line x1="122" y1="458.3" x2="143.3" y2="458.3" stroke="#000" stroke-width="2.4" />
<line x1="122" y1="455.1" x2="122" y2="461.5" stroke="#000" stroke-width="2.3" />
<line x1="143.3" y1="455.1" x2="143.3" y2="461.5" stroke="#000" stroke-width="2.3" />
<line x1="162.2" y1="458.3" x2="184.3" y2="458.3" stroke="#000" stroke-width="2.4" />
<line x1="162.2" y1="455.1" x2="162.2" y2="461.5" stroke="#000" stroke-width="2.3" />
<line x1="184.3" y1="455.1" x2="184.3" y2="461.5" stroke="#000" stroke-width="2.3" />
<text x="49.8" y="334.6" font-size="8.85"><tspan font-style="italic">t</tspan> = 8.14</text>
<text x="42.6" y="345" font-size="8.8"><tspan font-style="italic">P</tspan> = 1.3 × 10<tspan dy="-3.2" font-size="6.2">−8</tspan></text>
<text x="123.5" y="441.1" font-size="6.95"><tspan font-style="italic">t</tspan> = 4.09</text>
<text x="111.7" y="451.5" font-size="6.9"><tspan font-style="italic">P</tspan> = 2.7 × 10<tspan dy="-2.6" font-size="4.9">−3</tspan></text>
<text x="164.1" y="441.1" font-size="6.95"><tspan font-style="italic">t</tspan> = 4.00</text>
<text x="163.6" y="451.5" font-size="6.9"><tspan font-style="italic">P</tspan> = 7.1 × 10<tspan dy="-2.6" font-size="4.9">−3</tspan></text>
<line x1="258.2" y1="426.9" x2="604.6" y2="426.9" stroke="#888" stroke-width="1.2" stroke-dasharray="5.9 3.9"/>
<line x1="258.2" y1="586.2" x2="604.6" y2="586.2" stroke="#888" stroke-width="1.2" stroke-dasharray="5.9 3.9"/>
<line x1="261.3" y1="378" x2="261.3" y2="587.9" stroke="#3a3a3a" stroke-width="1.3" />
<line x1="260.7" y1="587.3" x2="617.9" y2="587.3" stroke="#222" stroke-width="1.3" />
<line x1="256.7" y1="587.1" x2="261.3" y2="587.1" stroke="#3a3a3a" stroke-width="1.1" />
<text x="253.3" y="590.1" font-size="8.7" text-anchor="end">1.0</text>
<line x1="256.7" y1="555.06" x2="261.3" y2="555.06" stroke="#3a3a3a" stroke-width="1.1" />
<text x="253.3" y="558.06" font-size="8.7" text-anchor="end">1.2</text>
<line x1="256.7" y1="523.02" x2="261.3" y2="523.02" stroke="#3a3a3a" stroke-width="1.1" />
<text x="253.3" y="526.02" font-size="8.7" text-anchor="end">1.4</text>
<line x1="256.7" y1="490.98" x2="261.3" y2="490.98" stroke="#3a3a3a" stroke-width="1.1" />
<text x="253.3" y="493.98" font-size="8.7" text-anchor="end">1.6</text>
<line x1="256.7" y1="458.94" x2="261.3" y2="458.94" stroke="#3a3a3a" stroke-width="1.1" />
<text x="253.3" y="461.94" font-size="8.7" text-anchor="end">1.8</text>
<line x1="256.7" y1="426.9" x2="261.3" y2="426.9" stroke="#3a3a3a" stroke-width="1.1" />
<text x="253.3" y="429.9" font-size="8.7" text-anchor="end">2.0</text>
<line x1="256.7" y1="394.86" x2="261.3" y2="394.86" stroke="#3a3a3a" stroke-width="1.1" />
<text x="253.3" y="397.86" font-size="8.7" text-anchor="end">2.2</text>
<line x1="296.6" y1="587.3" x2="296.6" y2="591.9" stroke="#222" stroke-width="1.1" />
<text x="296.6" y="602.5" font-size="8.8" text-anchor="middle">Mar 2017</text>
<line x1="368.1" y1="587.3" x2="368.1" y2="591.9" stroke="#222" stroke-width="1.1" />
<text x="368.1" y="602.5" font-size="8.8" text-anchor="middle">Sep 2017</text>
<line x1="439.6" y1="587.3" x2="439.6" y2="591.9" stroke="#222" stroke-width="1.1" />
<text x="439.6" y="602.5" font-size="8.8" text-anchor="middle">Nov 2017</text>
<line x1="510.9" y1="587.3" x2="510.9" y2="591.9" stroke="#222" stroke-width="1.1" />
<text x="510.9" y="602.5" font-size="8.8" text-anchor="middle">Feb 2018</text>
<line x1="582.3" y1="587.3" x2="582.3" y2="591.9" stroke="#222" stroke-width="1.1" />
<text x="582.3" y="602.5" font-size="8.8" text-anchor="middle">Jun 2018</text>
<text x="438.3" y="621.9" font-size="8.75" text-anchor="middle">Ag time point</text>
<text x="229.9" y="483" font-size="8.9" text-anchor="middle" transform="rotate(-90 229.9 483)">iRep</text>
<line x1="282.45" y1="460.7" x2="282.45" y2="498.3" stroke="#3d3d3d" stroke-width="1.6" />
<line x1="282.45" y1="524.1" x2="282.45" y2="550.3" stroke="#3d3d3d" stroke-width="1.6" />
<line x1="274.55" y1="460.7" x2="290.35" y2="460.7" stroke="#3d3d3d" stroke-width="1.6" />
<line x1="274.55" y1="550.3" x2="290.35" y2="550.3" stroke="#3d3d3d" stroke-width="1.6" />
<rect x="268.3" y="498.3" width="28.3" height="25.8" fill="#fbb03b" stroke="#3d3d3d" stroke-width="1.6" />
<line x1="268.3" y1="513.9" x2="296.6" y2="513.9" stroke="#3d3d3d" stroke-width="1.6" />
<path d="M282.45 393.2L284.45 396.4L282.45 399.6L280.45 396.4Z" fill="#3d3d3d"/>
<path d="M282.45 419L284.45 422.2L282.45 425.4L280.45 422.2Z" fill="#3d3d3d"/>
<path d="M282.45 420.4L284.45 423.6L282.45 426.8L280.45 423.6Z" fill="#3d3d3d"/>
<path d="M282.45 447L284.45 450.2L282.45 453.4L280.45 450.2Z" fill="#3d3d3d"/>
<path d="M282.45 453.7L284.45 456.9L282.45 460.1L280.45 456.9Z" fill="#3d3d3d"/>
<text x="282.15" y="562.9" font-size="8.75" text-anchor="middle"><tspan font-style="italic">n</tspan> = 81</text>
<line x1="310.75" y1="410.3" x2="310.75" y2="485.2" stroke="#3d3d3d" stroke-width="1.6" />
<line x1="310.75" y1="535.5" x2="310.75" y2="558.9" stroke="#3d3d3d" stroke-width="1.6" />
<line x1="302.85" y1="410.3" x2="318.65" y2="410.3" stroke="#3d3d3d" stroke-width="1.6" />
<line x1="302.85" y1="558.9" x2="318.65" y2="558.9" stroke="#3d3d3d" stroke-width="1.6" />
<rect x="296.6" y="485.2" width="28.3" height="50.3" fill="#078f42" stroke="#3d3d3d" stroke-width="1.6" />
<line x1="296.6" y1="521.1" x2="324.9" y2="521.1" stroke="#3d3d3d" stroke-width="1.6" />
<path d="M310.75 384.2L312.75 387.4L310.75 390.6L308.75 387.4Z" fill="#3d3d3d"/>
<path d="M310.75 388.6L312.75 391.8L310.75 395L308.75 391.8Z" fill="#3d3d3d"/>
<path d="M310.75 393.2L312.75 396.4L310.75 399.6L308.75 396.4Z" fill="#3d3d3d"/>
<path d="M310.75 395L312.75 398.2L310.75 401.4L308.75 398.2Z" fill="#3d3d3d"/>
<path d="M310.75 400.4L312.75 403.6L310.75 406.8L308.75 403.6Z" fill="#3d3d3d"/>
<path d="M310.75 404.4L312.75 407.6L310.75 410.8L308.75 407.6Z" fill="#3d3d3d"/>
<text x="310.65" y="569.9" font-size="8.75" text-anchor="middle"><tspan font-style="italic">n</tspan> = 226</text>
<line x1="353.95" y1="495.7" x2="353.95" y2="508.3" stroke="#3d3d3d" stroke-width="1.6" />
<line x1="353.95" y1="544.2" x2="353.95" y2="572" stroke="#3d3d3d" stroke-width="1.6" />
<line x1="346.05" y1="495.7" x2="361.85" y2="495.7" stroke="#3d3d3d" stroke-width="1.6" />
<line x1="346.05" y1="572" x2="361.85" y2="572" stroke="#3d3d3d" stroke-width="1.6" />
<rect x="339.8" y="508.3" width="28.3" height="35.9" fill="#fbb03b" stroke="#3d3d3d" stroke-width="1.6" />
<line x1="339.8" y1="518.8" x2="368.1" y2="518.8" stroke="#3d3d3d" stroke-width="1.6" />
<path d="M353.95 400.9L355.95 404.1L353.95 407.3L351.95 404.1Z" fill="#3d3d3d"/>
<path d="M353.95 415.1L355.95 418.3L353.95 421.5L351.95 418.3Z" fill="#3d3d3d"/>
<path d="M353.95 435.6L355.95 438.8L353.95 442L351.95 438.8Z" fill="#3d3d3d"/>
<text x="354.75" y="582.7" font-size="8.75" text-anchor="middle"><tspan font-style="italic">n</tspan> = 26</text>
<line x1="382.25" y1="505.3" x2="382.25" y2="515" stroke="#3d3d3d" stroke-width="1.6" />
<line x1="382.25" y1="537.2" x2="382.25" y2="567.7" stroke="#3d3d3d" stroke-width="1.6" />
<line x1="374.35" y1="505.3" x2="390.15" y2="505.3" stroke="#3d3d3d" stroke-width="1.6" />
<line x1="374.35" y1="567.7" x2="390.15" y2="567.7" stroke="#3d3d3d" stroke-width="1.6" />
<rect x="368.1" y="515" width="28.3" height="22.2" fill="#078f42" stroke="#3d3d3d" stroke-width="1.6" />
<line x1="368.1" y1="520.9" x2="396.4" y2="520.9" stroke="#3d3d3d" stroke-width="1.6" />
<path d="M382.25 446.8L384.25 450L382.25 453.2L380.25 450Z" fill="#3d3d3d"/>
<path d="M382.25 471.3L384.25 474.5L382.25 477.7L380.25 474.5Z" fill="#3d3d3d"/>
<text x="383.85" y="577.8" font-size="8.75" text-anchor="middle"><tspan font-style="italic">n</tspan> = 17</text>
<line x1="425.45" y1="491.3" x2="425.45" y2="505.7" stroke="#3d3d3d" stroke-width="1.6" />
<line x1="425.45" y1="535.4" x2="425.45" y2="569.9" stroke="#3d3d3d" stroke-width="1.6" />
<line x1="417.55" y1="491.3" x2="433.35" y2="491.3" stroke="#3d3d3d" stroke-width="1.6" />
<line x1="417.55" y1="569.9" x2="433.35" y2="569.9" stroke="#3d3d3d" stroke-width="1.6" />
<rect x="411.3" y="505.7" width="28.3" height="29.7" fill="#fbb03b" stroke="#3d3d3d" stroke-width="1.6" />
<line x1="411.3" y1="520.6" x2="439.6" y2="520.6" stroke="#3d3d3d" stroke-width="1.6" />
<path d="M425.45 393.9L427.45 397.1L425.45 400.3L423.45 397.1Z" fill="#3d3d3d"/>
<path d="M425.45 434.4L427.45 437.6L425.45 440.8L423.45 437.6Z" fill="#3d3d3d"/>
<path d="M425.45 445.6L427.45 448.8L425.45 452L423.45 448.8Z" fill="#3d3d3d"/>
<text x="425.85" y="580.4" font-size="8.75" text-anchor="middle"><tspan font-style="italic">n</tspan> = 27</text>
<line x1="453.75" y1="440.6" x2="453.75" y2="496.6" stroke="#3d3d3d" stroke-width="1.6" />
<line x1="453.75" y1="536.1" x2="453.75" y2="567" stroke="#3d3d3d" stroke-width="1.6" />
<line x1="445.85" y1="440.6" x2="461.65" y2="440.6" stroke="#3d3d3d" stroke-width="1.6" />
<line x1="445.85" y1="567" x2="461.65" y2="567" stroke="#3d3d3d" stroke-width="1.6" />
<rect x="439.6" y="496.6" width="28.3" height="39.5" fill="#078f42" stroke="#3d3d3d" stroke-width="1.6" />
<line x1="439.6" y1="516.2" x2="467.9" y2="516.2" stroke="#3d3d3d" stroke-width="1.6" />
<path d="M453.75 433.4L455.75 436.6L453.75 439.8L451.75 436.6Z" fill="#3d3d3d"/>
<text x="455.25" y="577" font-size="8.75" text-anchor="middle"><tspan font-style="italic">n</tspan> = 21</text>
<line x1="496.75" y1="483.8" x2="496.75" y2="506" stroke="#3d3d3d" stroke-width="1.6" />
<line x1="496.75" y1="537.2" x2="496.75" y2="567.3" stroke="#3d3d3d" stroke-width="1.6" />
<line x1="488.85" y1="483.8" x2="504.65" y2="483.8" stroke="#3d3d3d" stroke-width="1.6" />
<line x1="488.85" y1="567.3" x2="504.65" y2="567.3" stroke="#3d3d3d" stroke-width="1.6" />
<rect x="482.6" y="506" width="28.3" height="31.2" fill="#fbb03b" stroke="#3d3d3d" stroke-width="1.6" />
<line x1="482.6" y1="522.7" x2="510.9" y2="522.7" stroke="#3d3d3d" stroke-width="1.6" />
<path d="M496.75 395.7L498.75 398.9L496.75 402.1L494.75 398.9Z" fill="#3d3d3d"/>
<path d="M496.75 431.3L498.75 434.5L496.75 437.7L494.75 434.5Z" fill="#3d3d3d"/>
<text x="498.75" y="577.5" font-size="8.75" text-anchor="middle"><tspan font-style="italic">n</tspan> = 24</text>
<line x1="525.05" y1="469.3" x2="525.05" y2="500.4" stroke="#3d3d3d" stroke-width="1.6" />
<line x1="525.05" y1="531.9" x2="525.05" y2="564.1" stroke="#3d3d3d" stroke-width="1.6" />
<line x1="517.15" y1="469.3" x2="532.95" y2="469.3" stroke="#3d3d3d" stroke-width="1.6" />
<line x1="517.15" y1="564.1" x2="532.95" y2="564.1" stroke="#3d3d3d" stroke-width="1.6" />
<rect x="510.9" y="500.4" width="28.3" height="31.5" fill="#078f42" stroke="#3d3d3d" stroke-width="1.6" />
<line x1="510.9" y1="521.5" x2="539.2" y2="521.5" stroke="#3d3d3d" stroke-width="1.6" />
<path d="M525.05 390.4L527.05 393.6L525.05 396.8L523.05 393.6Z" fill="#3d3d3d"/>
<path d="M525.05 443.2L527.05 446.4L525.05 449.6L523.05 446.4Z" fill="#3d3d3d"/>
<text x="527.45" y="575.7" font-size="8.75" text-anchor="middle"><tspan font-style="italic">n</tspan> = 23</text>
<line x1="568.15" y1="471.1" x2="568.15" y2="510.9" stroke="#3d3d3d" stroke-width="1.6" />
<line x1="568.15" y1="539.7" x2="568.15" y2="569.1" stroke="#3d3d3d" stroke-width="1.6" />
<line x1="560.25" y1="471.1" x2="576.05" y2="471.1" stroke="#3d3d3d" stroke-width="1.6" />
<line x1="560.25" y1="569.1" x2="576.05" y2="569.1" stroke="#3d3d3d" stroke-width="1.6" />
<rect x="554" y="510.9" width="28.3" height="28.8" fill="#fbb03b" stroke="#3d3d3d" stroke-width="1.6" />
<line x1="554" y1="525.3" x2="582.3" y2="525.3" stroke="#3d3d3d" stroke-width="1.6" />
<path d="M568.15 414.8L570.15 418L568.15 421.2L566.15 418Z" fill="#3d3d3d"/>
<path d="M568.15 416.4L570.15 419.6L568.15 422.8L566.15 419.6Z" fill="#3d3d3d"/>
<path d="M568.15 429.7L570.15 432.9L568.15 436.1L566.15 432.9Z" fill="#3d3d3d"/>
<path d="M568.15 432.8L570.15 436L568.15 439.2L566.15 436Z" fill="#3d3d3d"/>
<path d="M568.15 445.6L570.15 448.8L568.15 452L566.15 448.8Z" fill="#3d3d3d"/>
<path d="M568.15 456.5L570.15 459.7L568.15 462.9L566.15 459.7Z" fill="#3d3d3d"/>
<path d="M568.15 460.5L570.15 463.7L568.15 466.9L566.15 463.7Z" fill="#3d3d3d"/>
<text x="568.85" y="578.2" font-size="8.75" text-anchor="middle"><tspan font-style="italic">n</tspan> = 129</text>
<line x1="596.45" y1="472.2" x2="596.45" y2="513.5" stroke="#3d3d3d" stroke-width="1.6" />
<line x1="596.45" y1="542.7" x2="596.45" y2="567.6" stroke="#3d3d3d" stroke-width="1.6" />
<line x1="588.55" y1="472.2" x2="604.35" y2="472.2" stroke="#3d3d3d" stroke-width="1.6" />
<line x1="588.55" y1="567.6" x2="604.35" y2="567.6" stroke="#3d3d3d" stroke-width="1.6" />
<rect x="582.3" y="513.5" width="28.3" height="29.2" fill="#078f42" stroke="#3d3d3d" stroke-width="1.6" />
<line x1="582.3" y1="531" x2="610.6" y2="531" stroke="#3d3d3d" stroke-width="1.6" />
<path d="M596.45 415.6L598.45 418.8L596.45 422L594.45 418.8Z" fill="#3d3d3d"/>
<path d="M596.45 418.4L598.45 421.6L596.45 424.8L594.45 421.6Z" fill="#3d3d3d"/>
<path d="M596.45 421.2L598.45 424.4L596.45 427.6L594.45 424.4Z" fill="#3d3d3d"/>
<path d="M596.45 438.6L598.45 441.8L596.45 445L594.45 441.8Z" fill="#3d3d3d"/>
<path d="M596.45 447.1L598.45 450.3L596.45 453.5L594.45 450.3Z" fill="#3d3d3d"/>
<path d="M596.45 454.5L598.45 457.7L596.45 460.9L594.45 457.7Z" fill="#3d3d3d"/>
<path d="M596.45 463.3L598.45 466.5L596.45 469.7L594.45 466.5Z" fill="#3d3d3d"/>
<text x="600.35" y="577.2" font-size="8.75" text-anchor="middle"><tspan font-style="italic">n</tspan> = 101</text>
<line x1="282.2" y1="369.2" x2="567.8" y2="369.2" stroke="#000" stroke-width="2.5" />
<line x1="282.2" y1="365.9" x2="282.2" y2="373.4" stroke="#000" stroke-width="2.3" />
<line x1="567.8" y1="365.9" x2="567.8" y2="373.4" stroke="#000" stroke-width="2.3" />
<line x1="354.2" y1="385.1" x2="567.8" y2="385.1" stroke="#000" stroke-width="2.5" />
<line x1="354.2" y1="382.1" x2="354.2" y2="389.7" stroke="#000" stroke-width="2.3" />
<line x1="567.8" y1="382.1" x2="567.8" y2="389.7" stroke="#000" stroke-width="2.3" />
<text x="390.2" y="365" font-size="8.6"><tspan font-style="italic">t</tspan> = 2.79; <tspan font-style="italic">P</tspan> = 5.8 × 10<tspan dy="-3.2" font-size="6.1">−3</tspan></text>
<text x="430.4" y="381" font-size="8.6"><tspan font-style="italic">t</tspan> = 2.22; <tspan font-style="italic">P</tspan> = 2.8 × 10<tspan dy="-3.2" font-size="6.1">−2</tspan></text>
<rect x="585.6" y="364.3" width="9.9" height="9.4" fill="#fbb03b" stroke="#333" stroke-width="0.9" />
<rect x="585.6" y="378.6" width="9.9" height="9" fill="#078f42" stroke="#333" stroke-width="0.9" />
<text x="599.7" y="371.6" font-size="6.75">CPR bacteria</text>
<text x="599.7" y="385.4" font-size="6.85">Non-CPR</text>
<text x="599.7" y="393.4" font-size="6.85">bacteria</text>
<text x="610.5" y="423.5" font-size="8.7" fill="#8a8a8a" stroke="#8a8a8a">All cells are making</text>
<text x="610.5" y="432.5" font-size="8.7" fill="#8a8a8a" stroke="#8a8a8a">one copy of their</text>
<text x="610.5" y="441.5" font-size="8.7" fill="#8a8a8a" stroke="#8a8a8a">genome</text>
<text x="620.9" y="585.6" font-size="8.7" fill="#8a8a8a" stroke="#8a8a8a">No cells are</text>
<text x="620.9" y="595.1" font-size="8.7" fill="#8a8a8a" stroke="#8a8a8a">replicating</text>
</svg>
</body></html>
